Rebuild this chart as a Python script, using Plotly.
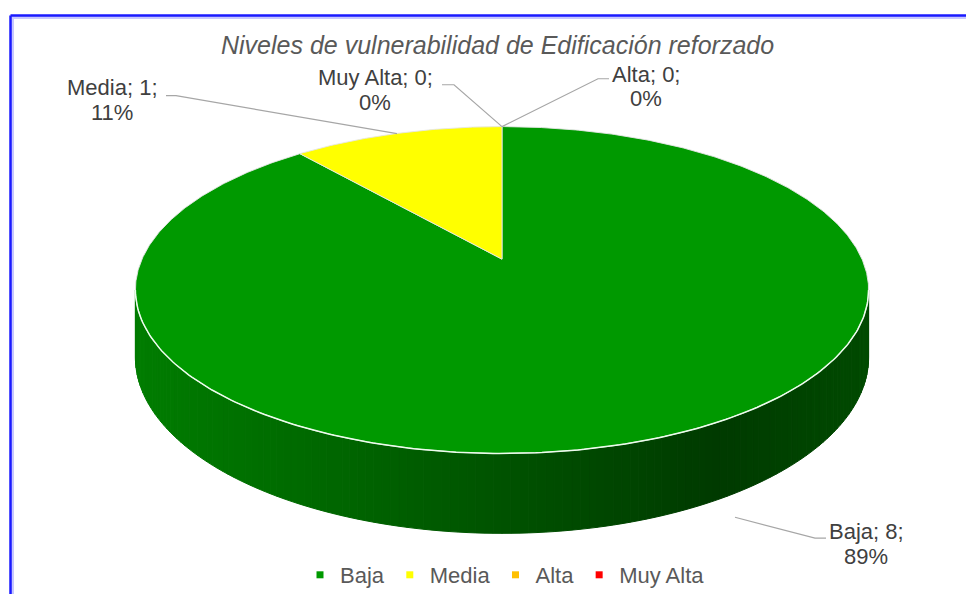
import numpy as np
import plotly.graph_objects as go

# ---- data ----
categories = ["Baja", "Media", "Alta", "Muy Alta"]
values = [8, 1, 0, 0]
colors = ["#009900", "#FFFF00", "#FFC000", "#FF0000"]
title_text = "Niveles de vulnerabilidad de Edificación reforzado"

# ---- page / geometry (pixel units of the browser window) ----
W, H = 974, 604
OFF = 8  # default body margin of the html page
FIG_W, FIG_H = W - OFF, H - 2 * OFF
CX, A, B, C, D, DEPTH = 502.0, 260.0, -109.0, 0.189, 360.0, 65.0


def top_pt(theta_deg):
    t = np.radians(theta_deg)
    u, v = np.sin(t), np.cos(t)
    w = 1 + C * v
    return CX + D * u / w, (A + B * v) / w


def bottom_pt(theta_deg):
    x, y = top_pt(theta_deg)
    t = np.radians(theta_deg)
    w = 1 + C * np.cos(t)
    return x, y + DEPTH / w


total = float(sum(values))
bounds = np.concatenate([[0.0], np.cumsum(values) / total * 360.0])

fig = go.Figure()

# ---- side wall (visible front part) ----
th0 = np.degrees(np.arccos(-C))
th1 = 360 - th0
n = 140
edges = np.linspace(th0, th1, n + 1)


def side_color(x):
    f = (x - (CX - D)) / (2 * D)  # 0 left -> 1 right
    f = min(max(f, 0), 1)
    if f < 0.8:
        g = 124 - (124 - 58) * (f / 0.8)
    else:
        g = 58 + (74 - 58) * ((f - 0.8) / 0.2)
    return "rgb(0,%d,0)" % int(round(g))


for i in range(n):
    a, b = edges[i], edges[i + 1]
    x1, y1 = top_pt(a)
    x2, y2 = top_pt(b)
    x3, y3 = bottom_pt(b)
    x4, y4 = bottom_pt(a)
    col = side_color((x1 + x2) / 2)
    fig.add_trace(go.Scatter(
        x=[x1, x2, x3, x4, x1], y=[y1, y2, y3, y4, y1],
        mode="lines", fill="toself", fillcolor=col,
        line=dict(color=col, width=1), hoverinfo="skip", showlegend=False))

# ---- top face slices ----
for cat, val, col, s, e in zip(categories, values, colors, bounds[:-1], bounds[1:]):
    if val == 0:
        continue
    th = np.linspace(s, e, max(int((e - s) * 2), 2))
    xs, ys = top_pt(th)
    px = np.concatenate([[CX], xs, [CX]])
    py = np.concatenate([[A], ys, [A]])
    fig.add_trace(go.Scatter(
        x=px, y=py, mode="lines", fill="toself", fillcolor=col,
        line=dict(color="rgba(230,230,230,0.9)", width=1),
        name=cat, hoverinfo="name", showlegend=False))

# front rim highlight
th = np.linspace(th0, th1, 200)
xs, ys = top_pt(th)
fig.add_trace(go.Scatter(x=xs, y=ys, mode="lines",
                         line=dict(color="rgba(240,255,240,0.95)", width=1.5),
                         hoverinfo="skip", showlegend=False))

# ---- legend entries ----
for cat, col in zip(categories, colors):
    fig.add_trace(go.Scatter(x=[None], y=[None], mode="markers", name=cat,
                             marker=dict(symbol="square", size=7, color=col)))

# ---- data labels (two lines each) ----
label_pos = {"Media": (112, 88, 113), "Muy Alta": (375, 78, 103),
             "Alta": (646, 75, 99), "Baja": (866, 533, 558)}
for cat, val in zip(categories, values):
    pct = round(val / total * 100)
    x, y1, y2 = label_pos[cat]
    fig.add_annotation(x=x, y=y1, xref="x", yref="y", text=f"{cat}; {val};",
                       showarrow=False, font=dict(size=22, color="#404040"), borderpad=0)
    fig.add_annotation(x=x, y=y2, xref="x", yref="y", text=f"{pct}%",
                       showarrow=False, font=dict(size=22, color="#404040"), borderpad=0)

# leader lines
leaders = [
    "M 166 96 L 176 96 L 397 134",
    "M 442 85 L 454 85 L 502 127",
    "M 502 127 L 598 79 L 609 79",
    "M 735 519 L 815 540 L 826 540",
]
for p in leaders:
    fig.add_shape(type="path", path=p, xref="x", yref="y",
                  line=dict(color="#a6a6a6", width=1.2))

# blue frame
fig.add_shape(type="line", x0=12, y0=17, x1=W + 5, y1=17, xref="x", yref="y",
              line=dict(color="#c8c8ff", width=4))
fig.add_shape(type="line", x0=12, y0=17, x1=12, y1=H + 5, xref="x", yref="y",
              line=dict(color="#c8c8ff", width=4))
fig.add_shape(type="line", x0=10.5, y0=15.5, x1=W + 5, y1=15.5, xref="x", yref="y",
              line=dict(color="#1a1aff", width=2.5))
fig.add_shape(type="line", x0=10.5, y0=15.5, x1=10.5, y1=H + 5, xref="x", yref="y",
              line=dict(color="#1a1aff", width=2.5))

fig.add_annotation(x=497, y=45, xref="x", yref="y", text=f"<i>{title_text}</i>",
                   showarrow=False, font=dict(size=25, color="#595959"), borderpad=0)

fig.update_layout(
    width=FIG_W, height=FIG_H, margin=dict(l=0, r=0, t=0, b=0),
    paper_bgcolor="white", plot_bgcolor="white",
    font=dict(family="Liberation Sans, Arial, sans-serif"),
    xaxis=dict(range=[OFF, OFF + FIG_W], visible=False, fixedrange=True),
    yaxis=dict(range=[OFF + FIG_H, OFF], visible=False, fixedrange=True),
    legend=dict(orientation="h", x=0.5 - (OFF + FIG_W / 2 - 505) / FIG_W, xanchor="center",
                y=(OFF + FIG_H - 577) / FIG_H, yanchor="middle",
                font=dict(size=22, color="#595959"), itemwidth=30,
                bgcolor="rgba(0,0,0,0)"),
)

fig.write_html("out.html")
